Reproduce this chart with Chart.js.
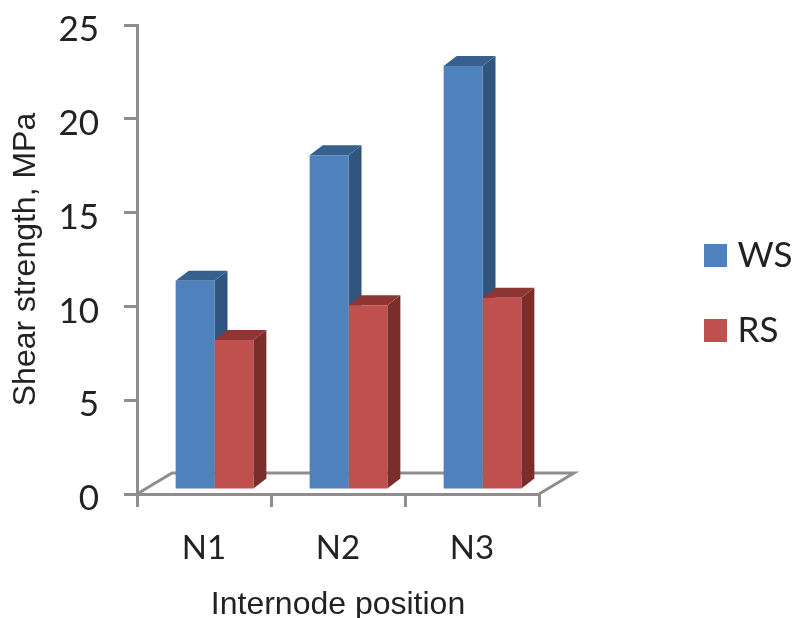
<!DOCTYPE html>
<html>
<head>
<meta charset="utf-8">
<style>
html,body{margin:0;padding:0;background:#fff}
#wrap{width:794px;height:618px;position:relative}
canvas{display:block;filter:blur(0.45px)}
</style>
<script src="https://cdn.jsdelivr.net/npm/chart.js@4/dist/chart.umd.min.js"></script>
</head>
<body>
<div id="wrap"><canvas id="c" width="794" height="618"></canvas></div>
<script>
const categories = ['N1', 'N2', 'N3'];
const wsValues = [11.15, 17.85, 22.6];
const rsValues = [8.0, 9.85, 10.25];
const yMax = 25;
const yStep = 5;

const AXIS = '#8e8e8e';
const TEXT = '#222222';
const BLUE = {front:'#4f81bd', side:'#31557f', top:'#38608f'};
const RED  = {front:'#c0504d', side:'#7b2d2b', top:'#8d3634'};
const BAR_DX = 13, BAR_DY = 10, FLOOR_DX = 35, FLOOR_DY = 21, SHIFT_X = 10.5, SHIFT_Y = -4;

const depth3d = {
  id:'depth3d',
  beforeLayout(chart){
    const l = chart.legend;
    if (l && !l._patched){
      l._patched = true;
      const f = l.fit;
      l.fit = function(){ f.call(this); this.width = 255; };
    }
  },
  afterLayout(chart){
    const l = chart.legend;
    l.left = 711 - l.options.labels.padding;
    l.right = 794;
    l.top = 198;
  },
  beforeDatasetsDraw(chart){
    const {ctx, chartArea:a} = chart;
    ctx.save();
    ctx.strokeStyle = AXIS; ctx.lineWidth = 3; ctx.lineJoin='miter';
    ctx.beginPath();
    ctx.moveTo(a.left, a.bottom);
    ctx.lineTo(a.left + FLOOR_DX, a.bottom - FLOOR_DY);
    ctx.lineTo(a.right + FLOOR_DX, a.bottom - FLOOR_DY);
    ctx.lineTo(a.right, a.bottom);
    ctx.stroke();
    ctx.restore();
    ctx.save();
    ctx.translate(SHIFT_X, SHIFT_Y);
    chart.data.datasets.forEach((ds, i) => {
      chart.getDatasetMeta(i).data.forEach(b => {
        const p = b.getProps(['x','y','base','width'], true);
        const l = p.x - p.width/2, r = p.x + p.width/2;
        ctx.fillStyle = ds.sideColor;
        ctx.beginPath();
        ctx.moveTo(r, p.y); ctx.lineTo(r + BAR_DX, p.y - BAR_DY);
        ctx.lineTo(r + BAR_DX, p.base - BAR_DY); ctx.lineTo(r, p.base);
        ctx.closePath(); ctx.fill();
        ctx.fillStyle = ds.topColor;
        ctx.beginPath();
        ctx.moveTo(l, p.y); ctx.lineTo(l + BAR_DX, p.y - BAR_DY);
        ctx.lineTo(r + BAR_DX, p.y - BAR_DY); ctx.lineTo(r, p.y);
        ctx.closePath(); ctx.fill();
      });
    });
  },
  afterDatasetsDraw(chart){ chart.ctx.restore(); }
};

new Chart(document.getElementById('c'), {
  type:'bar',
  data:{
    labels:categories,
    datasets:[
      {label:'WS', data:wsValues, backgroundColor:BLUE.front, sideColor:BLUE.side, topColor:BLUE.top, clip:false},
      {label:'RS', data:rsValues, backgroundColor:RED.front, sideColor:RED.side, topColor:RED.top, clip:false}
    ]
  },
  options:{
    responsive:false,
    animation:false,
    layout:{padding:0},
    datasets:{bar:{barPercentage:1, categoryPercentage:0.58}},
    plugins:{
      title:{display:false},
      tooltip:{enabled:false},
      legend:{
        position:'right',
        align:'start',
        labels:{
          usePointStyle:true, pointStyle:'rect',
          boxWidth:9, boxHeight:23,
          padding:40,
          color:TEXT,
          font:{family:'Lato', size:35}
        }
      }
    },
    scales:{
      x:{
        afterFit(s){ s.height = 124; },
        grid:{drawOnChartArea:false, drawTicks:true, tickLength:13, color:AXIS, lineWidth:3},
        border:{display:true, color:AXIS, width:3},
        ticks:{color:TEXT, font:{family:'Lato', size:33}, padding:22, maxRotation:0},
        title:{display:true, text:'Internode position', color:TEXT,
               font:{family:'Liberation Sans', size:32, lineHeight:0.8}, padding:0}
      },
      y:{
        min:0, max:yMax,
        afterFit(s){ s.width = 137; s.paddingTop = 25; s.paddingBottom = 0; },
        grid:{drawOnChartArea:false, drawTicks:true, tickLength:13, color:AXIS, lineWidth:3},
        border:{display:true, color:AXIS, width:3},
        ticks:{stepSize:yStep, color:TEXT, font:{family:'Lato', size:35}, padding:25, labelOffset:5},
        title:{display:true, text:'Shear strength, MPa', color:TEXT,
               font:{family:'Liberation Sans', size:32}, padding:{top:7,bottom:0}}
      }
    }
  },
  plugins:[depth3d]
});
</script>
</body>
</html>
